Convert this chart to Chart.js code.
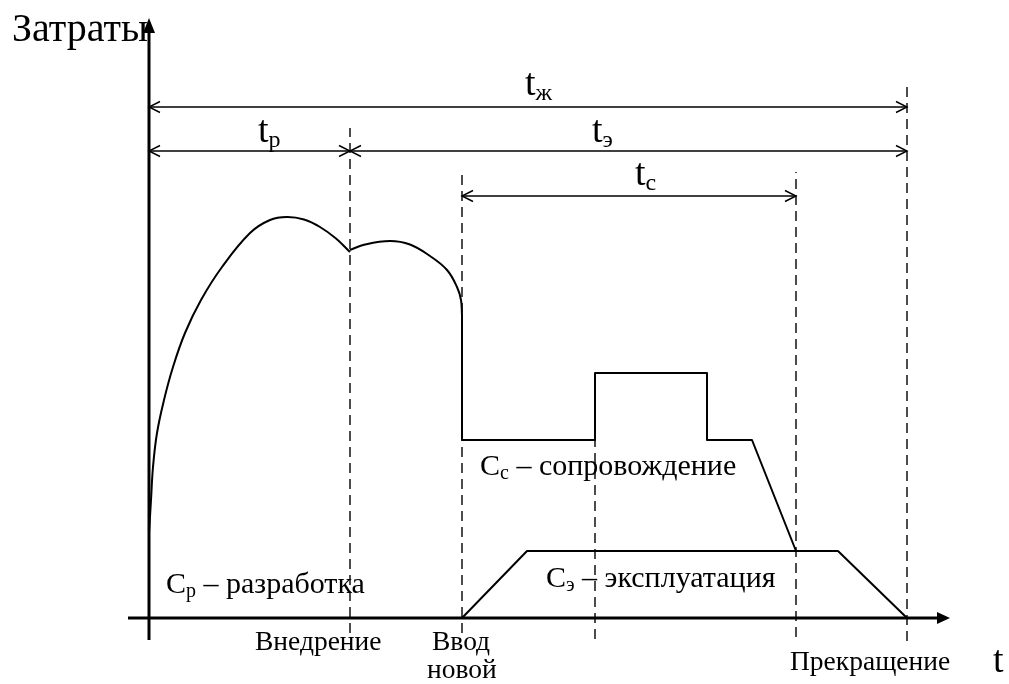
<!DOCTYPE html>
<html>
<head>
<meta charset="utf-8">
<script src="https://cdn.jsdelivr.net/npm/chart.js@4.4.1/dist/chart.umd.min.js"></script>
<style>
html,body{margin:0;padding:0;background:#fff;}
#wrap{width:1009px;height:684px;position:relative;}
</style>
</head>
<body>
<div id="wrap"><canvas id="c"></canvas></div>
<script>
// ---- data (time units along x, cost units along y) ----
const devRiseT = [0, 0.2, 0.4, 0.8, 1.5, 2.4, 3.6, 5.2, 7.3, 10.1, 12.1, 13.8, 15.5, 17.1, 18.7, 20.1];
const devRiseC = [8.5, 11.8, 15.1, 18.5, 21.8, 25.1, 28.5, 31.8, 35.1, 38.5, 39.8, 40.1, 39.85, 39.1, 37.95, 36.6];
const devImplT = [20.1, 21.6, 24.1, 26.1, 28.1, 29.8, 30.8, 31.2, 31.3];
const devImplC = [36.8, 37.35, 37.7, 37.35, 36.2, 34.8, 33.1, 31.8, 30.3];
const supportT = [31.3, 31.3, 44.6, 44.6, 55.8, 55.8, 60.3, 64.7];
const supportC = [30.3, 17.8, 17.8, 24.5, 24.5, 17.8, 17.8, 6.7];
const operT = [31.3, 37.8, 68.9, 75.8];
const operC = [0, 6.7, 6.7, 0];
const markerT = [20.1, 31.3, 44.6, 64.7, 75.8];
const markerTop = [49.0, 44.6, 17.8, 44.6, 53.6];
const markerBottom = [-1.5, -1.5, -2.1, -1.9, -2.3];
const spanNames = ['ж', 'р', 'э', 'с'];
const spanFrom = [0, 0, 20.1, 31.3];
const spanTo = [75.8, 20.1, 75.8, 64.7];
const spanLevel = [51.1, 46.7, 46.7, 42.2];
const spanLabelT = [37.6, 10.9, 44.3, 48.6];
const spanLabelC = [52.3, 47.6, 47.6, 43.3];
const eventNames = ['Внедрение', 'Ввод', 'новой', 'Прекращение'];
const eventLabelT = [10.6, 28.3, 27.8, 64.1];
const eventLabelC = [-3.2, -3.2, -6.0, -5.2];
const curveMain = ['C', 'C', 'C'];
const curveSub = ['р', 'с', 'э'];
const curveRest = [' – разработка', ' – сопровождение', ' – эксплуатация'];
const curveLabelT = [1.7, 33.1, 39.7];
const curveLabelC = [2.5, 14.3, 3.1];
const yTitle = 'Затраты';
const xTitle = 't';

const pts = (xs, ys) => xs.map((x, i) => ({x: x, y: ys[i]}));
const serif = '"Liberation Serif", "Times New Roman", serif';

const datasets = [];
const solid = (d, tension) => ({data: d, showLine: true, borderColor: '#000', borderWidth: 2, pointRadius: 0, tension: tension, fill: false, clip: false, borderJoinStyle: 'round', capBezierPoints: false});
datasets.push(solid(pts(devRiseT, devRiseC), 0.4));
datasets.push(solid(pts(devImplT, devImplC), 0.4));
datasets.push(solid(pts(supportT, supportC), 0));
datasets.push(solid(pts(operT, operC), 0));
markerT.forEach((t, i) => {
  datasets.push({data: [{x: t, y: markerBottom[i]}, {x: t, y: markerTop[i]}], showLine: true, borderColor: '#000', borderWidth: 1.4, borderDash: [10, 6], pointRadius: 0, clip: false});
});
spanFrom.forEach((t, i) => {
  datasets.push({data: [{x: t, y: spanLevel[i]}, {x: spanTo[i], y: spanLevel[i]}], showLine: true, borderColor: '#000', borderWidth: 1.4, pointRadius: 0, clip: false});
});

const decor = {
  id: 'decor',
  beforeDatasetsDraw(chart) {
    const ctx = chart.ctx, X = chart.scales.x, Y = chart.scales.y;
    const px = v => X.getPixelForValue(v), py = v => Y.getPixelForValue(v);
    ctx.save();
    ctx.strokeStyle = '#000'; ctx.fillStyle = '#000'; ctx.lineWidth = 3;
    // y axis
    ctx.beginPath(); ctx.moveTo(px(0), py(-2.2)); ctx.lineTo(px(0), py(58.8)); ctx.stroke();
    ctx.beginPath(); ctx.moveTo(px(0), py(60.0)); ctx.lineTo(px(0) - 6, py(58.5)); ctx.lineTo(px(0) + 6, py(58.5)); ctx.closePath(); ctx.fill();
    // x axis
    ctx.beginPath(); ctx.moveTo(px(-2.1), py(0)); ctx.lineTo(px(79.2), py(0)); ctx.stroke();
    ctx.beginPath(); ctx.moveTo(px(80.1), py(0)); ctx.lineTo(px(78.8), py(0) - 6); ctx.lineTo(px(78.8), py(0) + 6); ctx.closePath(); ctx.fill();
    ctx.restore();
  },
  afterDatasetsDraw(chart) {
    const ctx = chart.ctx, X = chart.scales.x, Y = chart.scales.y;
    const px = v => X.getPixelForValue(v), py = v => Y.getPixelForValue(v);
    ctx.save();
    ctx.strokeStyle = '#000'; ctx.fillStyle = '#000'; ctx.lineWidth = 1.4;
    const head = (x, y, dir) => {
      ctx.beginPath(); ctx.moveTo(x - dir * 11, y - 5.5); ctx.lineTo(x, y); ctx.lineTo(x - dir * 11, y + 5.5); ctx.stroke();
    };
    spanFrom.forEach((t, i) => {
      head(px(t), py(spanLevel[i]), -1);
      head(px(spanTo[i]), py(spanLevel[i]), 1);
    });
    ctx.textBaseline = 'alphabetic'; ctx.textAlign = 'left';
    // span labels
    spanNames.forEach((s, i) => {
      const x = px(spanLabelT[i]), y = py(spanLabelC[i]);
      ctx.font = '38px ' + serif; ctx.fillText('t', x, y);
      const w = ctx.measureText('t').width;
      ctx.font = '24px ' + serif; ctx.fillText(s, x + w, y + 5);
    });
    // axis titles
    ctx.font = '40px ' + serif;
    ctx.fillText(yTitle, px(-13.7), py(57.7));
    ctx.font = '38px ' + serif;
    ctx.fillText(xTitle, px(84.4), py(-5.4));
    // events
    ctx.font = '27.5px ' + serif;
    eventNames.forEach((s, i) => ctx.fillText(s, px(eventLabelT[i]), py(eventLabelC[i])));
    // curve labels
    curveMain.forEach((s, i) => {
      let x = px(curveLabelT[i]); const y = py(curveLabelC[i]);
      ctx.font = '30px ' + serif; ctx.fillText(s, x, y); x += ctx.measureText(s).width;
      ctx.font = '20px ' + serif; ctx.fillText(curveSub[i], x, y + 4); x += ctx.measureText(curveSub[i]).width;
      ctx.font = '30px ' + serif; ctx.fillText(curveRest[i], x, y);
    });
    ctx.restore();
  }
};

new Chart(document.getElementById('c'), {
  type: 'scatter',
  data: {datasets: datasets},
  options: {
    responsive: true, maintainAspectRatio: false, animation: false, devicePixelRatio: 1,
    layout: {padding: 0},
    plugins: {legend: {display: false}, tooltip: {enabled: false}},
    scales: {
      x: {type: 'linear', min: -14.9, max: 86.0, display: false},
      y: {type: 'linear', min: -6.6, max: 61.8, display: false}
    }
  },
  plugins: [decor]
});
</script>
</body>
</html>
